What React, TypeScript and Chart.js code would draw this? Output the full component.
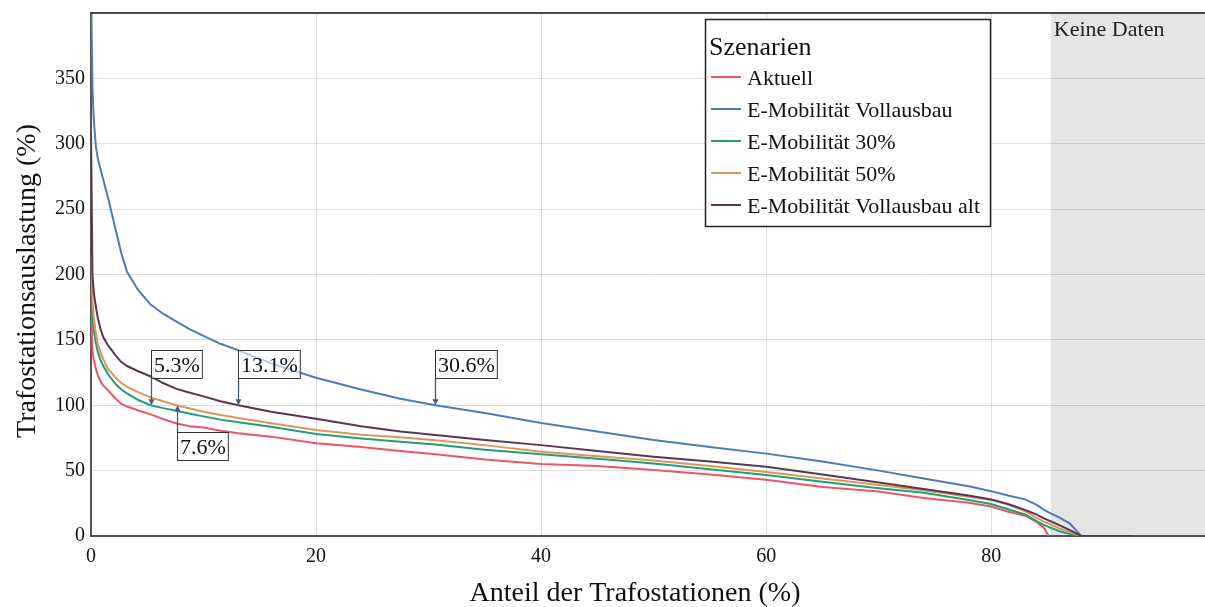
import React, { useEffect, useRef } from 'react';
import { Chart, registerables } from 'chart.js';

Chart.register(...registerables);

// ---- data ----
const xShare = [0, 0.13, 0.25, 0.43, 0.6, 0.87, 1.1, 1.5, 2.2, 2.7, 3.2, 4.2, 5.3, 6.4, 7.6, 8.8, 10, 11.5, 13.1, 16, 20, 24, 27.5, 30.6, 35, 40, 45, 50, 55, 60, 65, 70, 74, 78, 80, 81.5, 83, 84, 84.7, 85.1, 86, 87, 88, 92.7];
const aktuell = [175, 142, 135, 128, 123, 118, 115, 111.5, 105, 101, 99, 96, 93, 89.5, 86, 84, 83, 80.5, 78.5, 76, 71, 68, 65, 62.5, 58.5, 55, 53.5, 50.5, 47, 43, 37.5, 34, 29, 25.5, 22.5, 18.5, 15.5, 11, 6, 0, null, null, null, null];
const vollausbau = [420, 342, 318, 298, 289, 280, 272, 259, 234, 216, 202, 188, 177, 170, 164, 158, 153, 147, 142, 132, 121, 112, 105, 100, 94, 86.5, 80, 73.5, 68, 63, 57, 50, 44, 38, 34.3, 31, 28, 24, 20, 18, 14.5, 9.5, 0, 0];
const emob30 = [195, 170, 157, 147.5, 141, 134, 130, 124, 116, 112, 109, 104, 100, 97.8, 95.8, 93.5, 91.5, 89, 87, 83.6, 78, 74.5, 72, 70, 66, 62.5, 59, 55.5, 51, 46.7, 41.5, 36.5, 33, 27.5, 24.5, 20.5, 16.5, 11.5, 8.4, 7, 3.8, 1.5, 0, 0];
const emob50 = [215, 180, 167, 155, 147, 140, 135, 128, 121, 117, 114, 110, 106, 103, 100, 97.5, 95, 92.5, 90.2, 86.2, 81, 77.5, 75.5, 73.3, 69.5, 64.5, 61, 57.7, 53.5, 49, 44, 39, 35, 30, 27.5, 24, 19, 14, 11, 9.5, 6, 3, 0, 0];
const vollausbauAlt = [309, 200, 186, 175.5, 167, 157.6, 152, 146, 138, 133, 130, 126, 122, 117, 112.5, 109.5, 106.8, 103, 100, 95, 89.6, 84, 80, 77.3, 73.5, 69.5, 65, 60.7, 57, 53, 47, 41, 36, 31, 28, 24.5, 20, 16.5, 13.5, 12, 8.5, 4.5, 0, 0];

const seriesNames = ['Aktuell', 'E-Mobilität Vollausbau', 'E-Mobilität 30%', 'E-Mobilität 50%', 'E-Mobilität Vollausbau alt'];
const seriesValues = [aktuell, vollausbau, emob30, emob50, vollausbauAlt];
const seriesColors = ['#ec5766', '#4a7cba', '#1f9e78', '#dc965a', '#5a3750'];

const xTickValues = [0, 20, 40, 60, 80];
const yTickValues = [0, 50, 100, 150, 200, 250, 300, 350];

const annotX = [5.3, 13.1, 30.6, 7.6];
const annotY = [100, 100, 100, 100];
const annotLabels = ['5.3%', '13.1%', '30.6%', '7.6%'];
const annotBelow = [false, false, false, true];

const noDataFrom = 85.3;
const noDataLabel = 'Keine Daten';
const legendTitle = 'Szenarien';
const xTitle = 'Anteil der Trafostationen (%)';
const yTitle = 'Trafostationsauslastung (%)';

const SERIF = "'Liberation Serif', 'Times New Roman', serif";

export default function App() {
  const ref = useRef<HTMLCanvasElement | null>(null);

  useEffect(() => {
    if (!ref.current) return;

    const decor = {
      id: 'decor',
      beforeDraw(chart: any) {
        const { ctx, chartArea, scales } = chart;
        const x0 = scales.x.getPixelForValue(noDataFrom);
        ctx.save();
        ctx.fillStyle = '#e5e5e5';
        ctx.fillRect(x0, chartArea.top, chartArea.right - x0, chartArea.bottom - chartArea.top);
        ctx.restore();
      },
      afterDraw(chart: any) {
        const { ctx, chartArea, scales } = chart;
        const xs = scales.x;
        const ys = scales.y;
        ctx.save();

        // top border
        ctx.strokeStyle = '#111';
        ctx.lineWidth = 1.5;
        ctx.beginPath();
        ctx.moveTo(chartArea.left, chartArea.top);
        ctx.lineTo(chartArea.right, chartArea.top);
        ctx.stroke();

        // no data label
        ctx.fillStyle = '#222';
        ctx.font = `22px ${SERIF}`;
        ctx.textAlign = 'left';
        ctx.textBaseline = 'alphabetic';
        ctx.fillText(noDataLabel, xs.getPixelForValue(noDataFrom) + 3, 36);

        // annotations
        ctx.font = `22px ${SERIF}`;
        annotX.forEach((xv, i) => {
          const px = Math.round(xs.getPixelForValue(xv)) + 0.5;
          const py = ys.getPixelForValue(annotY[i]);
          const label = annotLabels[i];
          const tw = ctx.measureText(label).width;
          const bw = tw + 5;
          const bh = 28;
          const top = annotBelow[i] ? py + 27 : py - 55;
          ctx.strokeStyle = '#4d5d70';
          ctx.lineWidth = 1.3;
          ctx.beginPath();
          if (annotBelow[i]) {
            ctx.moveTo(px, top);
            ctx.lineTo(px, py + 3);
          } else {
            ctx.moveTo(px, top + bh);
            ctx.lineTo(px, py - 3);
          }
          ctx.stroke();
          ctx.fillStyle = '#4d5d70';
          ctx.beginPath();
          if (annotBelow[i]) {
            ctx.moveTo(px, py);
            ctx.lineTo(px - 3, py + 6);
            ctx.lineTo(px + 3, py + 6);
          } else {
            ctx.moveTo(px, py);
            ctx.lineTo(px - 3, py - 6);
            ctx.lineTo(px + 3, py - 6);
          }
          ctx.closePath();
          ctx.fill();
          ctx.fillStyle = 'rgba(255,255,255,0.6)';
          ctx.fillRect(px, top, bw, bh);
          ctx.strokeStyle = '#333';
          ctx.lineWidth = 1;
          ctx.strokeRect(px, Math.round(top) + 0.5, bw, bh);
          ctx.fillStyle = '#111';
          ctx.fillText(label, px + 2.5, top + 22);
        });

        // legend
        const lx = 705, ly = 19, lw = 286, lh = 208;
        ctx.fillStyle = '#fff';
        ctx.fillRect(lx, ly, lw, lh);
        ctx.strokeStyle = '#222';
        ctx.lineWidth = 1.5;
        ctx.strokeRect(lx + 0.5, ly + 0.5, lw - 1, lh - 1);
        ctx.fillStyle = '#111';
        ctx.font = `26px ${SERIF}`;
        ctx.fillText(legendTitle, 709, 55);
        ctx.font = `22px ${SERIF}`;
        seriesNames.forEach((n, i) => {
          const by = 85 + 32 * i;
          ctx.strokeStyle = seriesColors[i];
          ctx.lineWidth = 2;
          ctx.beginPath();
          ctx.moveTo(711, by - 8);
          ctx.lineTo(741, by - 8);
          ctx.stroke();
          ctx.fillStyle = '#111';
          ctx.fillText(n, 747, by);
        });

        // axis titles
        ctx.fillStyle = '#111';
        ctx.font = `28px ${SERIF}`;
        ctx.textAlign = 'center';
        ctx.fillText(xTitle, 635, 601);
        ctx.translate(35, 281);
        ctx.rotate(-Math.PI / 2);
        ctx.fillText(yTitle, 0, 0);
        ctx.restore();
      },
    };

    const order = [4, 3, 2, 1, 0];
    const chart = new Chart(ref.current, {
      type: 'line',
      data: {
        datasets: seriesNames.map((name, i) => ({
          label: name,
          data: xShare.map((x, j) => ({ x, y: seriesValues[i][j] as any })),
          borderColor: seriesColors[i],
          backgroundColor: seriesColors[i],
          borderWidth: 2,
          pointRadius: 0,
          tension: 0,
          fill: false,
          spanGaps: false,
          order: order[i],
        })),
      },
      options: {
        animation: false,
        responsive: false,
        devicePixelRatio: 1,
        layout: { padding: { top: 13, left: 0, right: 0, bottom: 0 } },
        plugins: { legend: { display: false }, tooltip: { enabled: false } },
        scales: {
          x: {
            type: 'linear',
            min: 0,
            max: 99,
            afterBuildTicks: (s: any) => {
              s.ticks = xTickValues.map((v) => ({ value: v }));
            },
            afterFit: (s: any) => {
              s.height = 71;
              s.paddingLeft = 0;
              s.paddingRight = 0;
            },
            grid: { color: 'rgba(0,0,0,0.13)', drawTicks: false },
            border: { color: '#555', width: 2 },
            ticks: { font: { family: SERIF, size: 20 }, color: '#111', padding: 9, maxRotation: 0, includeBounds: false },
          },
          y: {
            type: 'linear',
            min: 0,
            max: 400,
            afterBuildTicks: (s: any) => {
              s.ticks = yTickValues.map((v) => ({ value: v }));
            },
            afterFit: (s: any) => {
              s.width = 91;
              s.paddingTop = 0;
              s.paddingBottom = 0;
            },
            grid: { color: 'rgba(0,0,0,0.13)', drawTicks: false },
            border: { color: '#555', width: 2 },
            ticks: { font: { family: SERIF, size: 20 }, color: '#111', padding: 6 },
          },
        },
      } as any,
      plugins: [decor],
    });
    return () => chart.destroy();
  }, []);

  return (
    <div style={{ position: 'absolute', left: 0, top: 0, width: 1205, height: 607, overflow: 'hidden', background: '#fff' }}>
      <canvas ref={ref} width={1205} height={607} style={{ display: 'block' }} />
    </div>
  );
}
